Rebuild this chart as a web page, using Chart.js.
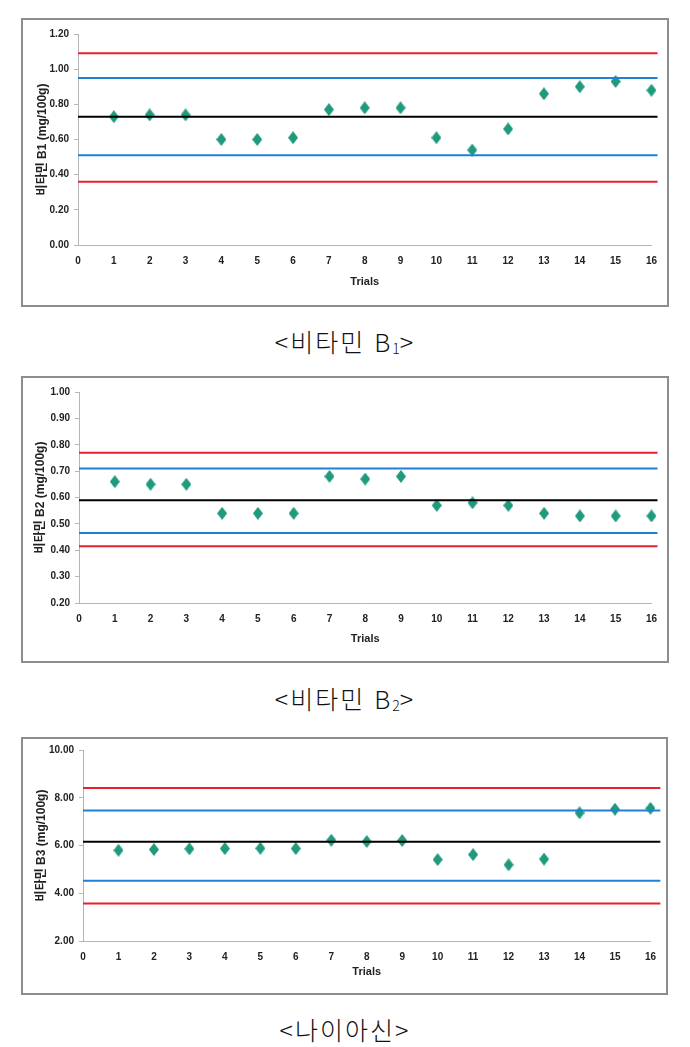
<!DOCTYPE html>
<html lang="ko">
<head>
<meta charset="utf-8">
<script src="https://cdn.jsdelivr.net/npm/chart.js@4/dist/chart.umd.min.js"></script>
<style>
  body { margin: 0; background: #fff; width: 690px; height: 1047px; position: relative; overflow: hidden; }
  .frame { position: absolute; border: 2px solid #8d8d8d; box-sizing: border-box; background: #fff; }
  .frame canvas { position: absolute; left: 0; top: 0; }
  .caption { position: absolute; left: 0; width: 690px; text-align: center; font-family: "Noto Sans CJK KR", sans-serif;
             font-weight: 300; font-size: 25px; letter-spacing: 2px; color: #111; line-height: 1; }
  .caption sub { font-size: 14px; vertical-align: -2px; letter-spacing: 0; }
</style>
</head>
<body>
<div class="frame" style="left:21px;top:18px;width:648px;height:289px"><canvas id="chartB1" width="644" height="285"></canvas></div>
<div class="caption" style="top:329px">&lt;비타민 B<sub>1</sub>&gt;</div>

<div class="frame" style="left:21px;top:376px;width:648px;height:287px"><canvas id="chartB2" width="644" height="283"></canvas></div>
<div class="caption" style="top:686px">&lt;비타민 B<sub>2</sub>&gt;</div>

<div class="frame" style="left:21px;top:737px;width:647px;height:258px"><canvas id="chartB3" width="643" height="254"></canvas></div>
<div class="caption" style="top:1017px">&lt;나이아신&gt;</div>

<script>
const trials = [1, 2, 3, 4, 5, 6, 7, 8, 9, 10, 11, 12, 13, 14, 15, 16];
const xTicks = [0, 1, 2, 3, 4, 5, 6, 7, 8, 9, 10, 11, 12, 13, 14, 15, 16];

// 비타민 B1
const b1Values = [0.73, 0.74, 0.74, 0.60, 0.60, 0.61, 0.77, 0.78, 0.78, 0.61, 0.54, 0.66, 0.86, 0.90, 0.93, 0.88];
const b1Limits = [1.09, 0.95, 0.73, 0.51, 0.36]; // 상한, 경고상한, 평균, 경고하한, 하한
const b1Ticks = [0.00, 0.20, 0.40, 0.60, 0.80, 1.00, 1.20];

// 비타민 B2
const b2Values = [0.66, 0.65, 0.65, 0.54, 0.54, 0.54, 0.68, 0.67, 0.68, 0.57, 0.58, 0.57, 0.54, 0.53, 0.53, 0.53];
const b2Limits = [0.77, 0.71, 0.59, 0.465, 0.415];
const b2Ticks = [0.20, 0.30, 0.40, 0.50, 0.60, 0.70, 0.80, 0.90, 1.00];

// 나이아신
const b3Values = [5.80, 5.83, 5.86, 5.87, 5.88, 5.87, 6.22, 6.17, 6.21, 5.41, 5.62, 5.19, 5.43, 7.37, 7.52, 7.56];
const b3Limits = [8.41, 7.47, 6.16, 4.52, 3.57];
const b3Ticks = [2.00, 4.00, 6.00, 8.00, 10.00];

const limitColors = ["#e2232c", "#1f80d6", "#000000", "#1f80d6", "#e2232c"];
const markerColor = "#1f9a7c";
const tickFont = { family: "'Liberation Sans Narrow', 'Liberation Sans', sans-serif", size: 10, weight: "bold" };

// 다이아몬드 마커 (세로로 긴 모양)
function diamondMarker() {
  const c = document.createElement("canvas");
  c.width = 10; c.height = 13;
  const g = c.getContext("2d");
  g.fillStyle = markerColor;
  g.beginPath();
  g.moveTo(5, 0); g.lineTo(10, 6.5); g.lineTo(5, 13); g.lineTo(0, 6.5);
  g.closePath();
  g.fill();
  return c;
}
const marker = diamondMarker();

function buildChart(id, values, limits, ticks, yTitle, lineEnd, lay) {
  const datasets = limits.map((v, i) => ({
    data: [{ x: 0, y: v }, { x: lineEnd, y: v }],
    showLine: true,
    borderColor: limitColors[i],
    borderWidth: 2,
    pointRadius: 0,
    clip: false
  }));
  datasets.push({
    data: trials.map((t, i) => ({ x: t, y: values[i] })),
    pointStyle: marker,
    pointRadius: 6,
    showLine: false,
    clip: false
  });

  new Chart(document.getElementById(id).getContext("2d"), {
    type: "scatter",
    data: { datasets },
    options: {
      responsive: false,
      animation: false,
      events: [],
      layout: { padding: { top: lay.top, right: lay.right, left: 0, bottom: 0 } },
      plugins: { legend: { display: false }, tooltip: { enabled: false } },
      scales: {
        x: {
          type: "linear",
          min: 0, max: 16,
          afterBuildTicks: s => { s.ticks = xTicks.map(v => ({ value: v })); },
          afterFit: s => { s.height = lay.bottom; },
          grid: { display: true, drawOnChartArea: false, drawTicks: false },
          border: { display: true, color: "#b5b5b5", width: 1 },
          ticks: { font: tickFont, color: "#222", padding: 10, maxRotation: 0, callback: v => String(v) },
          title: { display: true, text: "Trials", color: "#222", font: { ...tickFont, size: 11 }, padding: { top: 0, bottom: lay.trials } }
        },
        y: {
          min: ticks[0], max: ticks[ticks.length - 1],
          afterBuildTicks: s => { s.ticks = ticks.map(v => ({ value: v })); },
          afterFit: s => { s.width = lay.left; },
          grid: { display: true, drawOnChartArea: false, drawTicks: true, tickLength: 4, color: "#b5b5b5" },
          border: { display: true, color: "#b5b5b5", width: 1 },
          ticks: { font: tickFont, color: "#222", padding: 5, callback: v => v.toFixed(2) },
          title: { display: true, text: yTitle, color: "#222",
                   font: { family: "'Liberation Sans', 'Noto Sans CJK KR', sans-serif", size: 12, weight: "bold" },
                   padding: { top: lay.ytitle, bottom: 0 } }
        }
      }
    }
  });
}

buildChart("chartB1", b1Values, b1Limits, b1Ticks, "비타민 B1 (mg/100g)", 16.17,
  { left: 55, top: 14, right: 14, bottom: 60, trials: 16, ytitle: 12 });
buildChart("chartB2", b2Values, b2Limits, b2Ticks, "비타민 B2 (mg/100g)", 16.17,
  { left: 56, top: 14, right: 13, bottom: 58, trials: 15, ytitle: 10 });
buildChart("chartB3", b3Values, b3Limits, b3Ticks, "비타민 B3 (mg/100g)", 16.28,
  { left: 60, top: 10, right: 13, bottom: 52, trials: 14, ytitle: 11 });
</script>
</body>
</html>
